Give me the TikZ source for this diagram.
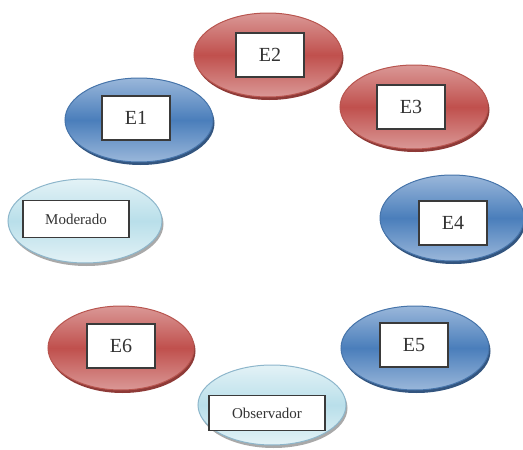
\documentclass[tikz,border=0pt]{standalone}
\usepackage{fontspec}
\setmainfont{Liberation Serif}
\usetikzlibrary{shapes.geometric,shadows}
\definecolor{redmd}{HTML}{C0504D}
\definecolor{redlt}{HTML}{DA9896}
\definecolor{redbd}{HTML}{B8554F}
\definecolor{redsh}{HTML}{8E3A37}
\definecolor{bluemd}{HTML}{4A7EBB}
\definecolor{bluelt}{HTML}{9AB7DA}
\definecolor{bluebd}{HTML}{4674AA}
\definecolor{bluesh}{HTML}{33557F}
\definecolor{cyanmd}{HTML}{B9DFEA}
\definecolor{cyanlt}{HTML}{E3F2F6}
\definecolor{cyanbd}{HTML}{8DB6CB}
\definecolor{cyansh}{HTML}{A9A9A9}
\definecolor{boxbd}{HTML}{3A3A3A}
\begin{document}
\begin{tikzpicture}[x=1pt,y=-1pt]
    \tikzstyle{every node}=[align=center, text=black!80]
    \tikzset{
        elli/.style={ellipse, minimum width=148pt, minimum height=84pt, line width=1pt},
        redell/.style={elli, draw=redbd, top color=redlt, bottom color=redlt, middle color=redmd,
            drop shadow={shadow xshift=1.5pt, shadow yshift=-3pt, fill=redsh, opacity=1}},
        blueell/.style={elli, draw=bluebd, top color=bluelt, bottom color=bluelt, middle color=bluemd,
            drop shadow={shadow xshift=1.5pt, shadow yshift=-3pt, fill=bluesh, opacity=1}},
        cyanell/.style={elli, draw=cyanbd, top color=cyanlt, bottom color=cyanlt, middle color=cyanmd,
            drop shadow={shadow xshift=1.5pt, shadow yshift=-3pt, fill=cyansh, opacity=1}},
        lbl/.style={draw=boxbd, fill=white, line width=1.3pt, minimum width=68pt, minimum height=44pt,
            inner sep=0pt, font=\fontsize{20}{22}\selectfont},
        lbl2/.style={lbl, minimum width=106pt, minimum height=37pt, font=\fontsize{15}{17}\selectfont}
        }
    \useasboundingbox (0,0) rectangle (523,450);

    %ellipses
    \node (e2) [redell] at (268,55) {};
    \node (e1) [blueell] at (139,120) {};
    \node (e3) [redell] at (414,107) {};
    \node (mod) [cyanell, minimum width=154pt] at (85,221) {};
    \node (e4) [blueell, minimum width=144pt, minimum height=86pt] at (452,218) {};
    \node (e6) [redell, minimum width=146pt] at (121,348) {};
    \node (e5) [blueell] at (415,348) {};
    \node (obs) [cyanell, minimum height=80pt] at (272,405) {};

    %labels
    \node (le2) [lbl] at (270,55) {E2};
    \node (le1) [lbl] at (136,118) {E1};
    \node (le3) [lbl] at (411,107) {E3};
    \node (lmod) [lbl2] at (76,219) {Moderado};
    \node (le4) [lbl] at (453,223) {E4};
    \node (le6) [lbl] at (121,346) {E6};
    \node (le5) [lbl] at (414,345) {E5};
    \node (lobs) [lbl2, minimum width=116pt, minimum height=35pt] at (267,413) {Observador};
\end{tikzpicture}
\end{document}
